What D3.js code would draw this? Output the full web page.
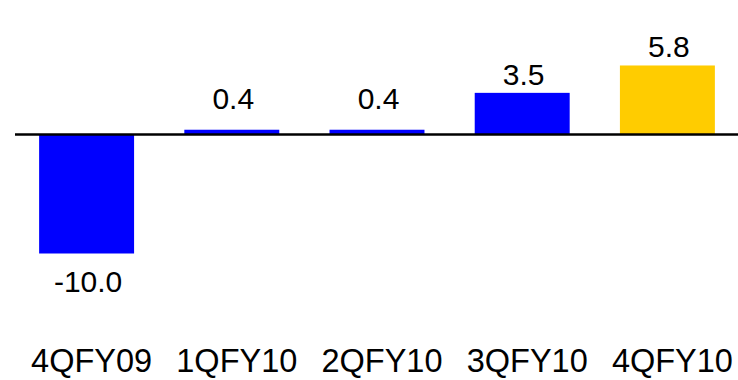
<!DOCTYPE html>
<html>
<head>
<meta charset="utf-8">
<script src="https://cdn.jsdelivr.net/npm/d3@7"></script>
<style>
  html, body { margin: 0; padding: 0; background: #fff; }
  svg { display: block; font-family: "Liberation Sans", Arial, sans-serif; }
</style>
</head>
<body>
<svg id="chart" width="738" height="380"></svg>
<script>
// Quarterly change values
const categories = ["4QFY09", "1QFY10", "2QFY10", "3QFY10", "4QFY10"];
const values = [-10.0, 0.4, 0.4, 3.5, 5.8];
const valueLabels = ["-10.0", "0.4", "0.4", "3.5", "5.8"];
const highlight = [false, false, false, false, true];

const W = 738, H = 380;
const svg = d3.select("#chart");

const x = d3.scaleBand()
  .domain(categories)
  .range([14, 740])
  .paddingInner(0.346)
  .paddingOuter(0.173);

const y0 = 134.5;
const pxPerUnit = 11.9;
const y = d3.scaleLinear()
  .domain([-10, 5.8])
  .range([y0 + 10 * pxPerUnit, y0 - 5.8 * pxPerUnit]);

const data = categories.map((c, i) => ({ c, v: values[i], label: valueLabels[i], hi: highlight[i] }));

// Bars
svg.append("g").selectAll("rect")
  .data(data)
  .join("rect")
  .attr("x", d => x(d.c))
  .attr("width", x.bandwidth())
  .attr("y", d => y(Math.max(0, d.v)))
  .attr("height", d => Math.abs(y(d.v) - y(0)))
  .attr("fill", d => d.hi ? "#FFCC00" : "#0000FF");

// Zero line
svg.append("line")
  .attr("x1", 15).attr("x2", W)
  .attr("y1", y(0)).attr("y2", y(0))
  .attr("stroke", "#000").attr("stroke-width", 2.5);

// Value labels
svg.append("g").selectAll("text")
  .data(data)
  .join("text")
  .attr("x", d => x(d.c) + x.bandwidth() / 2 + 1.5)
  .attr("y", d => d.v >= 0
    ? Math.min(y(d.v), y(0) - 18) - 8
    : y(d.v) + 38)
  .attr("text-anchor", "middle")
  .attr("font-size", 30)
  .attr("fill", "#000")
  .text(d => d.label);

// Category axis labels
const xAxis = d3.axisBottom(x).tickSize(0).tickPadding(0);
const gx = svg.append("g")
  .attr("transform", `translate(5, 350)`)
  .call(xAxis);
gx.select(".domain").remove();
gx.selectAll("text")
  .attr("font-size", 32.5)
  .attr("font-family", "Liberation Sans, Arial, sans-serif")
  .attr("fill", "#000")
  .attr("dy", 0)
  .attr("y", 22);
</script>
</body>
</html>
